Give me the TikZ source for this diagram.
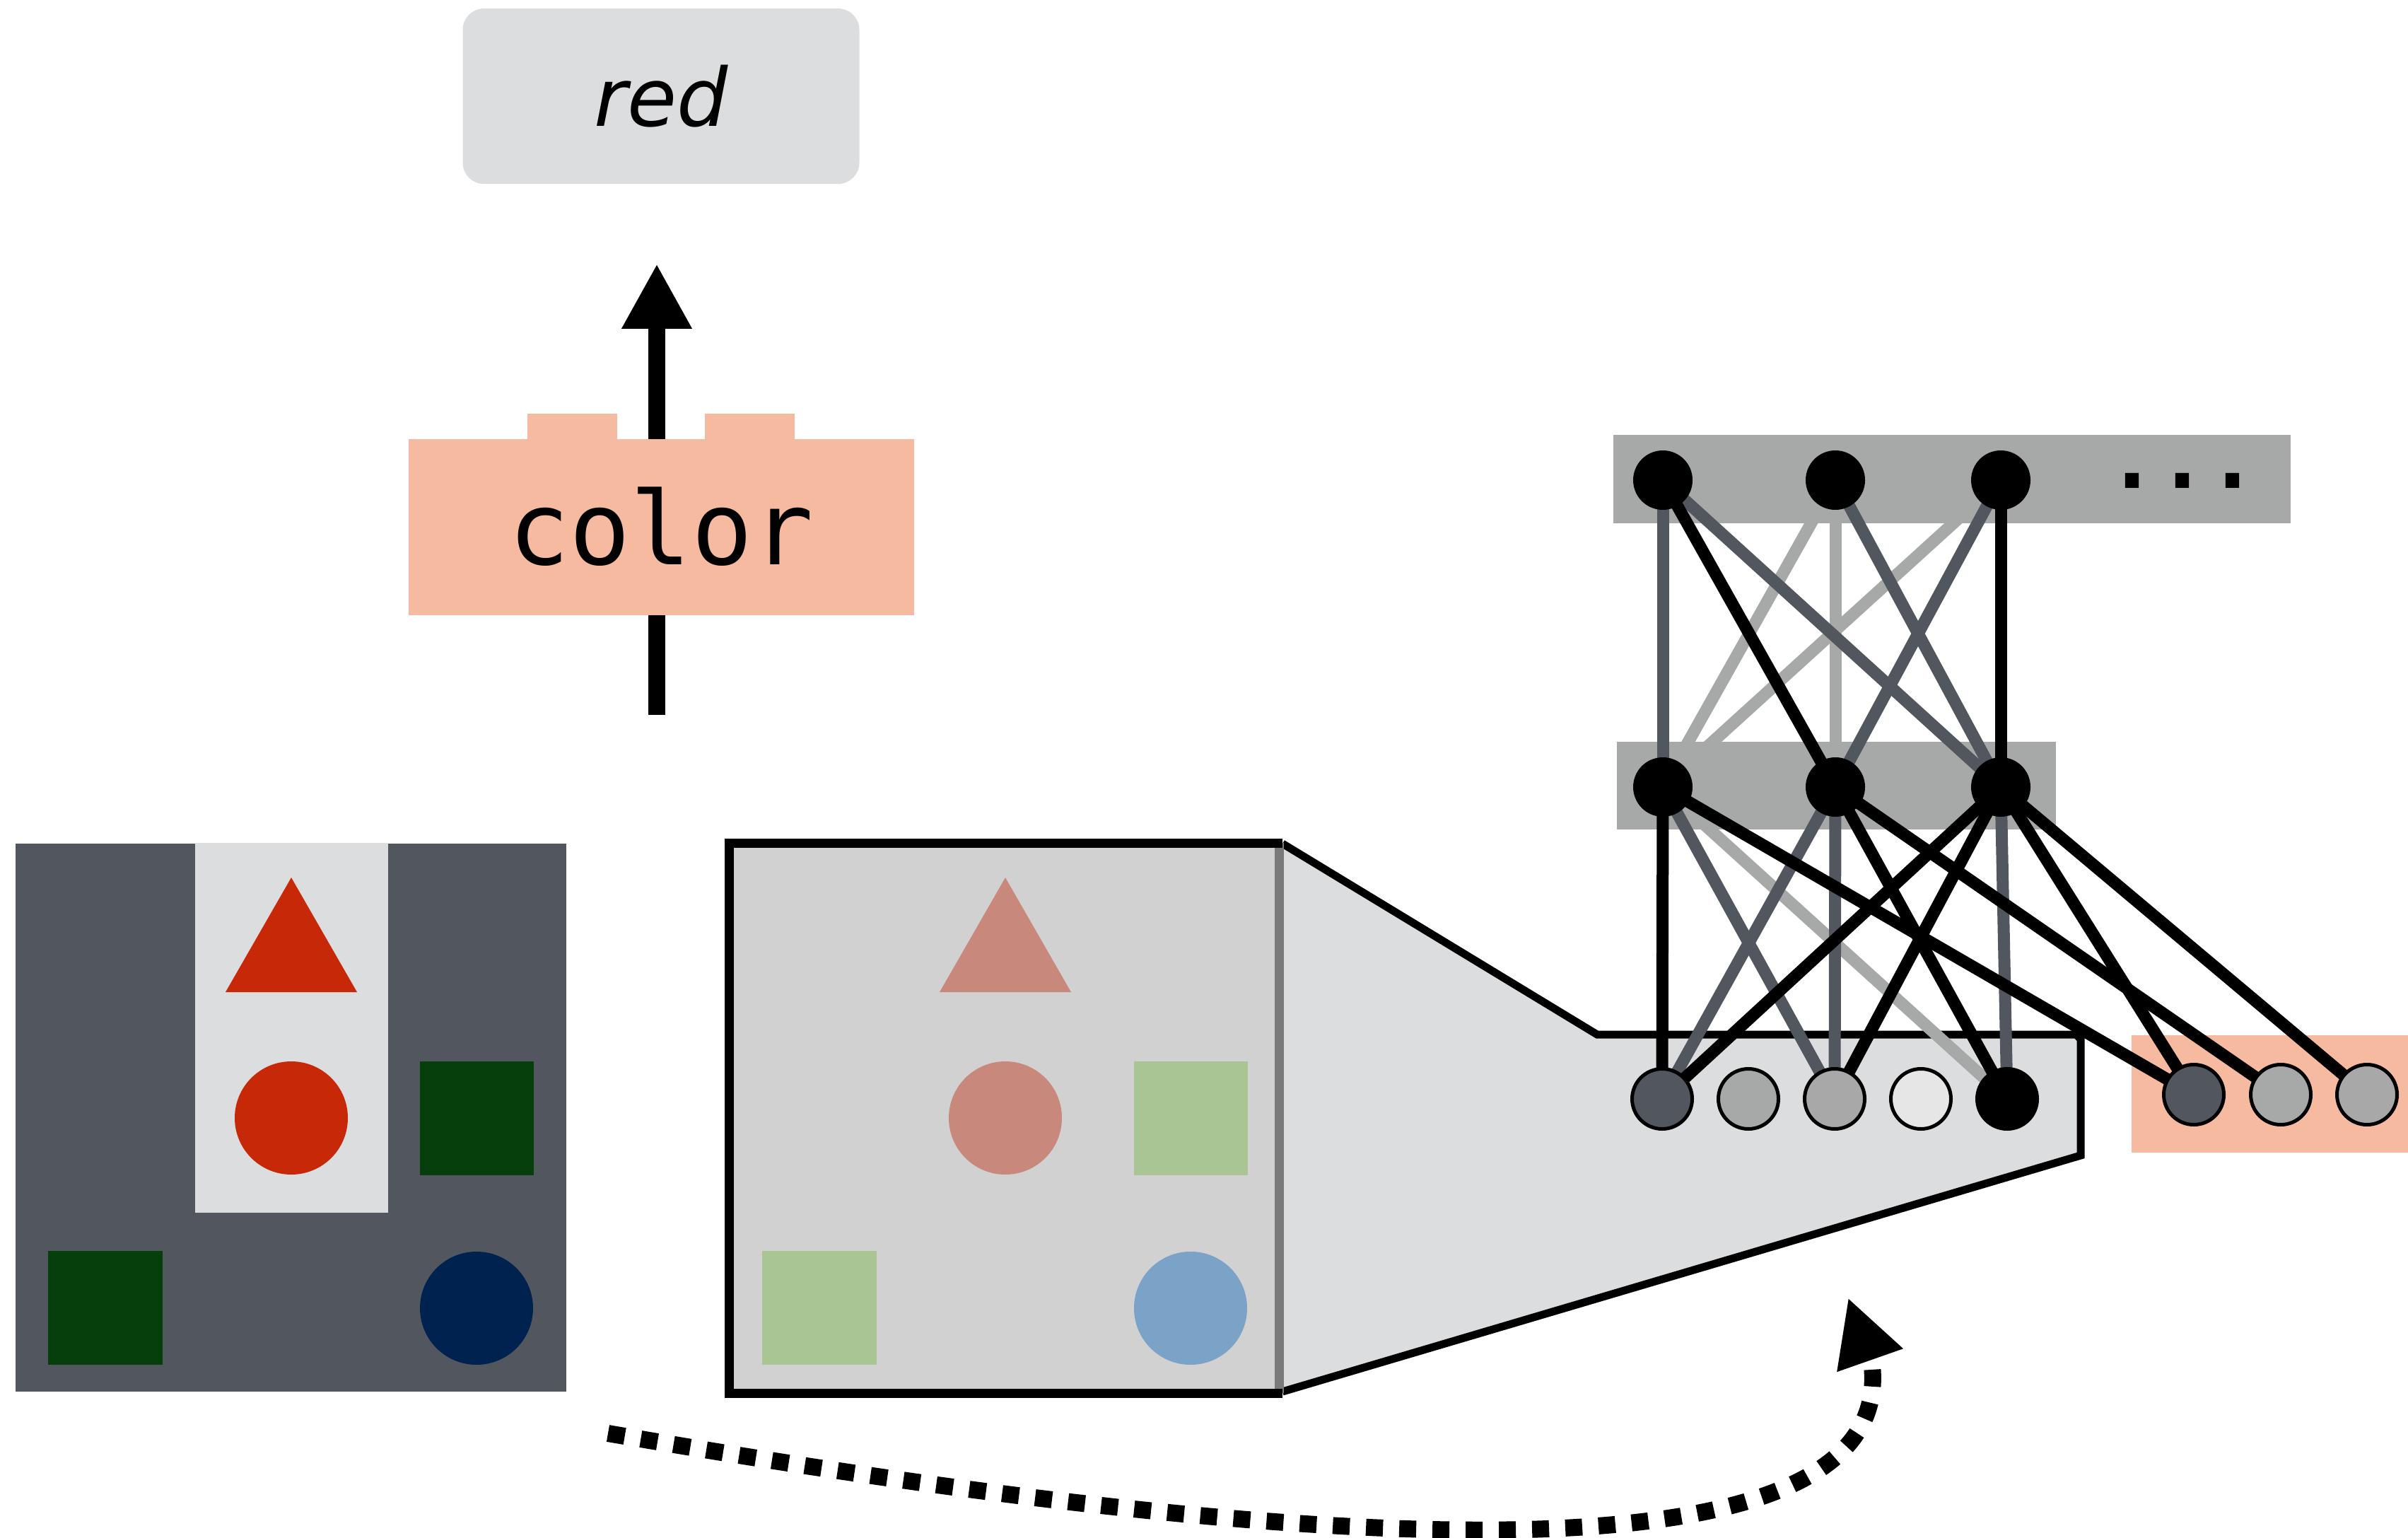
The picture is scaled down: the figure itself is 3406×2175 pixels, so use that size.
\documentclass[tikz,border=0pt]{standalone}
\usepackage{fontspec}
\setmainfont{DejaVu Sans}
\setmonofont{DejaVu Sans Mono}
\usepackage{tikz}
\usetikzlibrary{arrows.meta,positioning,backgrounds}
\pgfdeclarelayer{wires}
\pgfsetlayers{background,wires,main}
\definecolor{cSlate}{HTML}{52575F}
\definecolor{cFog}{HTML}{DCDDDF}
\definecolor{cMist}{HTML}{A6A9A8}
\definecolor{cAsh}{HTML}{A8A8A8}
\definecolor{cPale}{HTML}{E6E6E6}
\definecolor{cSalmon}{HTML}{F6BAA0}
\definecolor{cRed}{HTML}{C62808}
\definecolor{cLeaf}{HTML}{063F0C}
\definecolor{cNavy}{HTML}{00224E}
\definecolor{cRedFade}{HTML}{C8897C}
\definecolor{cLeafFade}{HTML}{A8C593}
\definecolor{cNavyFade}{HTML}{7BA2C7}
\definecolor{cLens}{HTML}{D1D1D1}
\definecolor{cRim}{HTML}{7A7A7A}
\tikzset{
  box/.style    = {rectangle, inner sep=0pt, align=center},
  answer/.style = {box, fill=cFog, rounded corners=3mm, minimum width=56.1mm,
                   minimum height=24.8mm, font=\fontsize{32.4pt}{36pt}\selectfont\itshape},
  module/.style = {box, fill=cSalmon, minimum width=71.5mm, minimum height=24.9mm,
                   font=\fontsize{40.8pt}{44pt}\selectfont\ttfamily},
  unit/.style   = {circle, draw=black, line width=0.5mm, inner sep=0pt, minimum size=8.5mm},
  hidden/.style = {unit, fill=black, minimum size=7.9mm},
  wlight/.style = {draw=cMist, line width=1.7mm},
  wdark/.style  = {draw=cSlate, line width=1.7mm},
  wbold/.style  = {draw=black, line width=1.7mm},
  flow/.style   = {-{Triangle[length=9.2mm,width=9.3mm]}, line width=2.4mm},
  sweep/.style  = {-{Triangle[length=9.4mm,width=9.2mm]}, line width=2.4mm,
                   dash pattern=on 2.4mm off 2.3mm},
}
% one scene: triangle and upper disc, squares, lower disc
\newcommand{\shapeset}[3]{%
  \fill[#1] (412,1241) -- (505,1403) -- (319,1403) -- cycle;
  \fill[#1] (412,1581) circle (80);
  \fill[#2] (594,1501) rectangle (755,1662);
  \fill[#2] (68,1769) rectangle (230,1930);
  \fill[#3] (674,1850) circle (80);
}
\begin{document}
\begin{tikzpicture}[x=0.1mm, y=-0.1mm]
  \useasboundingbox (0,0) rectangle (3406,2175);
  % readout
  \coordinate (feed) at (929,1011);
  \coordinate (head) at (929,373);
  \draw[flow] (feed) -- (head);
  \fill[cSalmon] (746,585) rectangle (873,621);
  \fill[cSalmon] (997,585) rectangle (1124,621);
  \node[module] (colour) at (935,745) {color};
  \node[answer, above=35.9mm of colour] (word) {red};
  % scene and zoomed view
  \begin{scope}[on background layer]
    \fill[cSlate] (22,1193) rectangle (801,1968);
    \fill[cFog] (276,1192) rectangle (549,1715);
    \shapeset{cRed}{cLeaf}{cNavy}
    \path[fill=cFog, draw=black, line width=1.1mm] (1814,1193) -- (2259,1463)
      -- (2937,1463) -- (2943,1470) -- (2943,1634) -- (1814,1968);
    \fill[cLens] (1031,1192) rectangle (1810,1970);
    \begin{scope}[xshift=101mm]
      \shapeset{cRedFade}{cLeafFade}{cNavyFade}
    \end{scope}
    \draw[cRim, line width=1.3mm] (1809,1192) -- (1809,1970);
    \draw[line width=1.3mm] (1814,1192) -- (1031,1192) -- (1031,1970) -- (1814,1970);
    % layer bars
    \fill[cMist] (2282,615) rectangle (3240,740);
    \fill[cMist] (2287,1049) rectangle (2908,1173);
    \fill[cSalmon] (3015,1464) rectangle (3406,1630);
  \end{scope}
  % units
  \foreach \i/\x in {1/2352,2/2596,3/2830} {
    \node[hidden] (T\i) at (\x,679) {};
    \node[hidden] (M\i) at (\x,1113) {};
  }
  \foreach \i/\x/\c in {1/2351/cSlate,2/2473/cMist,3/2595/cAsh,4/2717/cPale,5/2839/black}
    \node[unit, fill=\c] (B\i) at (\x,1554) {};
  \foreach \i/\x/\c in {1/3103/cSlate,2/3226/cMist,3/3348/cAsh}
    \node[unit, fill=\c] (R\i) at (\x,1548) {};
  \node[anchor=base, font=\fontsize{33.6pt}{36pt}\selectfont\ttfamily\bfseries] (more) at (3087,690) {...};
  % weights
  \begin{pgfonlayer}{wires}
    \foreach \a/\b in {T2/M1,T2/M2,T3/M1,M1/B5}
      \draw[wlight] (\a.center) -- (\b.center);
    \foreach \a/\b in {T1/M1,T1/M3,T2/M3,T3/M2,M1/B3,M2/B1,M2/B3,M3/B5}
      \draw[wdark] (\a.center) -- (\b.center);
    \foreach \a/\b in {T1/M2,T3/M3,M1/B1,M1/R1,M2/B5,M2/R2,M3/B1,M3/B3,M3/R1,M3/R3}
      \draw[wbold] (\a.center) -- (\b.center);
  \end{pgfonlayer}
  % sweep arrow
  \coordinate (sweepA) at (860,2027);
  \coordinate (sweepB) at (2648,1932);
  \coordinate (sweepC) at (2614,1835);
  \draw[sweep] (sweepA) .. controls (1800,2190) and (2680,2260) .. (sweepB) -- (sweepC);
\end{tikzpicture}
\end{document}
